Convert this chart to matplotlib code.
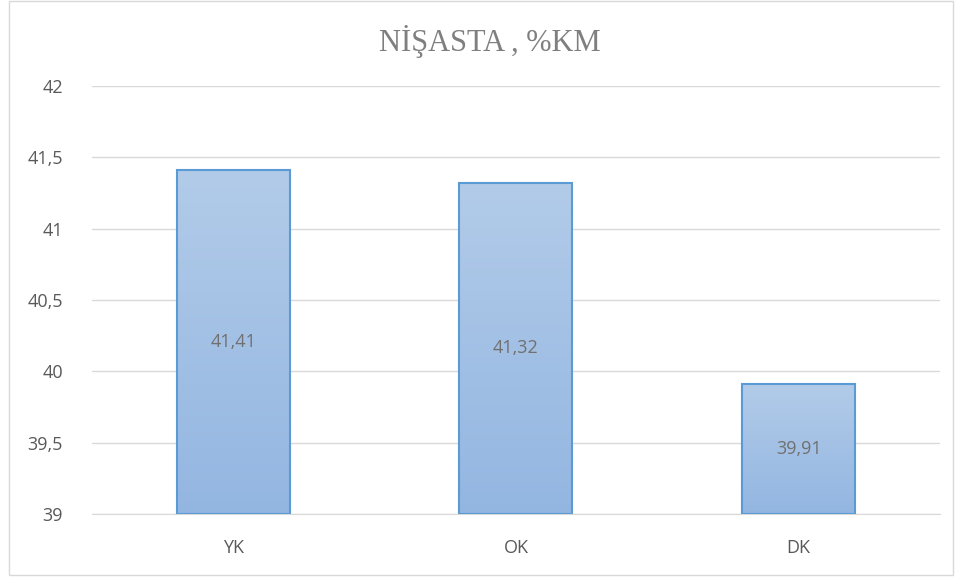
import numpy as np
import matplotlib.pyplot as plt
from matplotlib.patches import Rectangle

categories = ["YK", "OK", "DK"]
values = [41.41, 41.32, 39.91]
yticks = [39, 39.5, 40, 40.5, 41, 41.5, 42]

fig = plt.figure(figsize=(9.6, 5.79), dpi=100)
ax = fig.add_axes([0.0958, 0.1123, 0.8833, 0.7392])

# outer chart border
fig.patches.append(Rectangle((9 / 960, 4 / 579), 944 / 960, 574 / 579,
                             transform=fig.transFigure, fill=False,
                             ec="#d9d9d9", lw=1))

x = np.arange(len(categories))
width = 0.4
grad = np.linspace(0, 1, 256).reshape(-1, 1)
cmap = plt.matplotlib.colors.LinearSegmentedColormap.from_list(
    "g", ["#93b6e1", "#b2cbe9"])

for xi, v in zip(x, values):
    rect = Rectangle((xi - width / 2, 39), width, v - 39,
                     fc="none", ec="#5b9bd5", lw=1.5, zorder=3)
    ax.add_patch(rect)
    im = ax.imshow(grad, cmap=cmap, aspect="auto", origin="lower",
                   extent=(xi - width / 2, xi + width / 2, 39, v), zorder=2)
    im.set_clip_path(rect)
    ax.text(xi, 39 + (v - 39) / 2, f"{v:.2f}".replace(".", ","),
            ha="center", va="center", fontsize=13, color="#707070",
            family="Open Sans", zorder=4)

ax.set_xlim(-0.5, 2.5)
ax.set_ylim(39, 42)
ax.set_yticks(yticks)
ax.set_yticklabels([f"{t:g}".replace(".", ",") for t in yticks],
                   family="Open Sans", fontsize=13, color="#595959")
ax.set_xticks(x)
ax.set_xticklabels(categories, family="Open Sans", fontsize=13,
                   color="#595959")
ax.tick_params(length=0)
ax.tick_params(axis="x", pad=18)
ax.tick_params(axis="y", pad=21)
ax.grid(axis="y", color="#d9d9d9", lw=1, zorder=0)
ax.set_axisbelow(True)
for s in ["top", "right", "left"]:
    ax.spines[s].set_visible(False)
ax.spines["bottom"].set_color("#d9d9d9")

fig.text(0.51, 0.928, "NİŞASTA , %KM", ha="center", va="center",
         family="Liberation Serif", fontsize=22, color="#7f7f7f")

fig.savefig("out.png", dpi=100)
